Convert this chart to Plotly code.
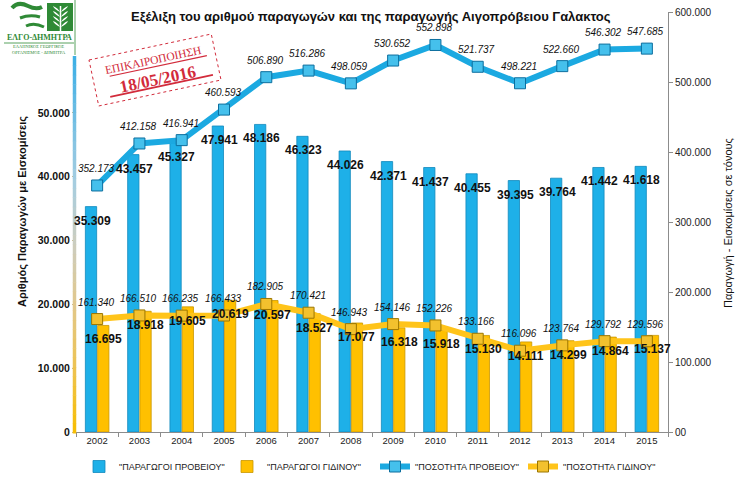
import math
import plotly.graph_objects as go

years = ["2002", "2003", "2004", "2005", "2006", "2007", "2008",
         "2009", "2010", "2011", "2012", "2013", "2014", "2015"]
sheep_producers = [35309, 43457, 45327, 47941, 48186, 46323, 44026,
                   42371, 41437, 40455, 39395, 39764, 41442, 41618]
goat_producers = [16695, 18918, 19605, 20619, 20597, 18527, 17077,
                  16318, 15918, 15130, 14111, 14299, 14864, 15137]
sheep_qty = [352173, 412158, 416941, 460593, 506890, 516286, 498059,
             530652, 552898, 521737, 498221, 522660, 546302, 547685]
goat_qty = [161340, 166510, 166235, 166433, 182905, 170421, 146943,
            154146, 152226, 133166, 116096, 123764, 129792, 129596]

left_ticks = [0, 10000, 20000, 30000, 40000, 50000]
left_ticktext = ["0", "10.000", "20.000", "30.000", "40.000", "50.000"]
right_ticks = [0, 100000, 200000, 300000, 400000, 500000, 600000]
right_ticktext = ["00", "100.000", "200.000", "300.000", "400.000", "500.000", "600.000"]

title_text = "Εξέλιξη του αριθμού παραγωγών και της παραγωγής Αιγοπρόβειου Γαλακτος"
left_title = "Αριθμός Παραγωγών με Εισκομίσεις"
right_title = "Παραγωγή - Εισκομίσεις σε τόνους"
names = ['"ΠΑΡΑΓΩΓΟΙ ΠΡΟΒΕΙΟΥ"', '"ΠΑΡΑΓΩΓΟΙ ΓΙΔΙΝΟΥ"',
         '"ΠΟΣΟΤΗΤΑ ΠΡΟΒΕΙΟΥ"', '"ΠΟΣΟΤΗΤΑ ΓΙΔΙΝΟΥ"']

W, H = 745, 483
L, R, T, B = 76, 668, 12, 432
FONT = "Liberation Sans"


def px(x):
    return (x - L) / (R - L)


def py(y):
    return (B - y) / (B - T)


def fmt(v):
    return f"{v:,}".replace(",", ".")


fig = go.Figure()
fig.add_trace(go.Bar(x=years, y=sheep_producers, name=names[0], yaxis="y",
                     marker=dict(color="#1EB0E8", line=dict(color="#1289BD", width=0.8))))
fig.add_trace(go.Bar(x=years, y=goat_producers, name=names[1], yaxis="y",
                     marker=dict(color="#FFC000", line=dict(color="#C99700", width=0.8))))
fig.add_trace(go.Scatter(x=years, y=sheep_qty, name=names[2], yaxis="y2",
                         mode="lines+markers",
                         line=dict(color="#1BA9E1", width=6),
                         marker=dict(symbol="square", size=11, color="#45C0EC",
                                     line=dict(color="#0C6E9E", width=1))))
fig.add_trace(go.Scatter(x=years, y=goat_qty, name=names[3], yaxis="y2",
                         mode="lines+markers",
                         line=dict(color="#FFC41A", width=6),
                         marker=dict(symbol="square", size=11, color="#F2C12E",
                                     line=dict(color="#9C7600", width=1))))

ann = []
C = dict(xanchor="center", yanchor="middle", showarrow=False)
for i, v in enumerate(sheep_producers):
    ann.append(dict(x=i, y=v, xref="x", yref="y", text=fmt(v), xshift=-5, yshift=-14,
                    font=dict(family=FONT, size=12, color="#111111", weight="bold"), **C))
for i, v in enumerate(goat_producers):
    ann.append(dict(x=i, y=v, xref="x", yref="y", text=fmt(v), xshift=6, yshift=-14,
                    font=dict(family=FONT, size=12, color="#111111", weight="bold"), **C))
for i, v in enumerate(sheep_qty):
    ann.append(dict(x=i, y=v, xref="x", yref="y2", text=fmt(v), xshift=-1, yshift=17,
                    font=dict(family=FONT, size=10, color="#111111", style="italic"), **C))
for i, v in enumerate(goat_qty):
    ann.append(dict(x=i, y=v, xref="x", yref="y2", text=fmt(v), xshift=-1, yshift=17,
                    font=dict(family=FONT, size=10, color="#111111", style="italic"), **C))

# title and axis titles
ann.append(dict(x=px(371), y=py(16.5), xref="paper", yref="paper", text=title_text,
                font=dict(family=FONT, size=13, color="#111111", weight="bold"), **C))
ann.append(dict(x=px(22), y=py(212), xref="paper", yref="paper", text=left_title,
                textangle=-90, font=dict(family=FONT, size=11, color="#111111", weight="bold"), **C))
ann.append(dict(x=px(728), y=py(223), xref="paper", yref="paper", text=right_title,
                textangle=-90, font=dict(family=FONT, size=11, color="#111111"), **C))

# stamp texts
RED = "#D22B3B"
ann.append(dict(x=px(153), y=py(60), xref="paper", yref="paper", text="ΕΠΙΚΑΙΡΟΠΟΙΗΣΗ",
                textangle=-12, font=dict(family="Liberation Serif", size=11.5, color=RED), **C))
ann.append(dict(x=px(157), y=py(79), xref="paper", yref="paper", text="18/05/2016",
                textangle=-12, font=dict(family="Liberation Serif", size=17, color=RED, weight="bold"), **C))

# logo texts
GREEN = "#2F8A36"
ann.append(dict(x=px(39), y=py(37), xref="paper", yref="paper", text="ΕΛΓΟ-ΔΗΜΗΤΡΑ",
                font=dict(family="Liberation Serif", size=8, color=GREEN, weight="bold"), **C))
ann.append(dict(x=px(39), y=py(49), xref="paper", yref="paper",
                text="ΕΛΛΗΝΙΚΟΣ ΓΕΩΡΓΙΚΟΣ<br>ΟΡΓΑΝΙΣΜΟΣ - ΔΗΜΗΤΡΑ",
                font=dict(family="Liberation Serif", size=4.5, color=GREEN), **C))

shapes = []

# gradient left axis line
stops = [(0.0, (60, 175, 230)), (0.33, (165, 205, 225)), (0.5, (205, 205, 190)),
         (0.66, (225, 200, 140)), (0.83, (238, 195, 80)), (1.0, (248, 190, 0))]


def col_at(t):
    for (t0, c0), (t1, c1) in zip(stops[:-1], stops[1:]):
        if t0 <= t <= t1:
            f = (t - t0) / (t1 - t0)
            return "rgb(%d,%d,%d)" % tuple(int(a + (b - a) * f) for a, b in zip(c0, c1))
    return "rgb(248,190,0)"


N = 40
y_top, y_bot = 56, 433
for i in range(N):
    a = y_top + (y_bot - y_top) * i / N
    b = y_top + (y_bot - y_top) * (i + 1) / N
    shapes.append(dict(type="line", xref="paper", yref="paper",
                       x0=px(74.5), x1=px(74.5), y0=py(a), y1=py(b + 0.5),
                       line=dict(color=col_at((i + 0.5) / N), width=3.5)))

# stamp rectangle
cx, cy, sw, sh, th = 155, 70, 125, 47, math.radians(12)
ux, uy = math.cos(th), -math.sin(th)
vx, vy = math.sin(th), math.cos(th)


def corner(a, b):
    return (cx + a * sw / 2 * ux + b * sh / 2 * vx, cy + a * sw / 2 * uy + b * sh / 2 * vy)


pts = [corner(-1, -1), corner(1, -1), corner(1, 1), corner(-1, 1)]
path = "M " + " L ".join(f"{px(x):.5f},{py(y):.5f}" for x, y in pts) + " Z"
shapes.append(dict(type="path", xref="paper", yref="paper", path=path,
                   line=dict(color=RED, width=1, dash="dot")))


def rline(a0, a1, b, width):
    p0 = corner(a0, b)
    p1 = corner(a1, b)
    return dict(type="line", xref="paper", yref="paper",
                x0=px(p0[0]), y0=py(p0[1]), x1=px(p1[0]), y1=py(p1[1]),
                line=dict(color=RED, width=width))


shapes.append(rline(-0.73, 0.86, -0.14, 1.2))
shapes.append(rline(-0.79, 0.89, 0.72, 1.8))

# logo graphics
shapes.append(dict(type="rect", xref="paper", yref="paper",
                   x0=px(47), x1=px(73), y0=py(3), y1=py(31),
                   fillcolor=GREEN, line=dict(width=0)))
for k in range(4):
    yy = 8 + k * 5
    shapes.append(dict(type="path", xref="paper", yref="paper",
                       path=f"M {px(60):.5f},{py(yy+4):.5f} Q {px(54):.5f},{py(yy+1):.5f} {px(53):.5f},{py(yy-2):.5f} "
                            f"Q {px(58):.5f},{py(yy):.5f} {px(60):.5f},{py(yy+4):.5f} Z",
                       fillcolor="white", line=dict(width=0)))
    shapes.append(dict(type="path", xref="paper", yref="paper",
                       path=f"M {px(61):.5f},{py(yy+4):.5f} Q {px(67):.5f},{py(yy+1):.5f} {px(68):.5f},{py(yy-2):.5f} "
                            f"Q {px(63):.5f},{py(yy):.5f} {px(61):.5f},{py(yy+4):.5f} Z",
                       fillcolor="white", line=dict(width=0)))
shapes.append(dict(type="line", xref="paper", yref="paper",
                   x0=px(60.5), x1=px(60.5), y0=py(6), y1=py(31),
                   line=dict(color="white", width=1.5)))
shapes.append(dict(type="path", xref="paper", yref="paper",
                   path=f"M {px(12):.5f},{py(8):.5f} Q {px(18):.5f},{py(1):.5f} {px(28):.5f},{py(6):.5f} "
                        f"Q {px(36):.5f},{py(10):.5f} {px(42):.5f},{py(7):.5f}",
                   line=dict(color=GREEN, width=4)))
shapes.append(dict(type="path", xref="paper", yref="paper",
                   path=f"M {px(20):.5f},{py(18):.5f} Q {px(30):.5f},{py(14):.5f} {px(40):.5f},{py(17):.5f}",
                   line=dict(color=GREEN, width=3)))
shapes.append(dict(type="path", xref="paper", yref="paper",
                   path=f"M {px(26):.5f},{py(26):.5f} Q {px(34):.5f},{py(22):.5f} {px(44):.5f},{py(27):.5f}",
                   line=dict(color=GREEN, width=3)))
shapes.append(dict(type="line", xref="paper", yref="paper",
                   x0=px(4), x1=px(74), y0=py(43), y1=py(43),
                   line=dict(color=GREEN, width=0.8)))
shapes.append(dict(type="line", xref="paper", yref="paper",
                   x0=px(75), x1=px(75), y0=py(0), y1=py(55),
                   line=dict(color=GREEN, width=0.8)))

fig.update_layout(
    width=W, height=H,
    margin=dict(l=L, r=W - R, t=T, b=H - B, autoexpand=False),
    paper_bgcolor="white", plot_bgcolor="white",
    font=dict(family=FONT, color="#222222"),
    barmode="group", bargap=0.42, bargroupgap=0.08,
    showlegend=True,
    legend=dict(orientation="h", x=px(79), y=py(452), xanchor="left", yanchor="top",
                font=dict(family=FONT, size=9, color="#222222"),
                entrywidth=103, itemwidth=30, bgcolor="rgba(0,0,0,0)"),
    xaxis=dict(type="category", range=[-0.5, 13.5], showline=True, linecolor="#8C8C8C",
               linewidth=1, ticks="outside", tickson="boundaries", ticklen=4,
               tickcolor="#8C8C8C", showgrid=False, zeroline=False,
               tickfont=dict(family=FONT, size=9.5, color="#222222")),
    yaxis=dict(range=[0, 65800], tickvals=left_ticks, ticktext=left_ticktext,
               showgrid=False, zeroline=False, showline=False, ticks="outside",
               ticklen=3, tickcolor="#C8B88A",
               tickfont=dict(family=FONT, size=10.5, color="#111111", weight="bold")),
    yaxis2=dict(range=[0, 600000], overlaying="y", side="right", anchor="x",
                tickvals=right_ticks, ticktext=right_ticktext,
                showgrid=False, zeroline=False, showline=True, linecolor="#8C8C8C",
                ticks="outside", ticklen=4, tickcolor="#8C8C8C",
                tickfont=dict(family=FONT, size=10, color="#222222")),
    annotations=ann,
    shapes=shapes,
)

fig.write_html("out.html", config={"displayModeBar": False},
               post_script="document.body.style.margin='0px';document.body.style.padding='0px';")
